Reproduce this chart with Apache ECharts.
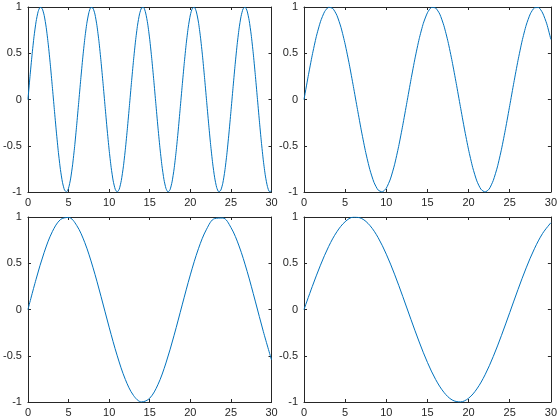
<!DOCTYPE html>
<html><head><meta charset="utf-8">
<script src="https://cdn.jsdelivr.net/npm/echarts@6/dist/echarts.min.js"></script>
<style>html,body{margin:0;padding:0;background:#fff}#c{width:560px;height:420px}</style>
</head><body><div id="c"></div>
<script>
// x samples
const xQuarter = [0,0.25,0.5,0.75,1,1.25,1.5,1.75,2,2.25,2.5,2.75,3,3.25,3.5,3.75,4,4.25,4.5,4.75,5,5.25,5.5,5.75,6,6.25,6.5,6.75,7,7.25,7.5,7.75,8,8.25,8.5,8.75,9,9.25,9.5,9.75,10,10.25,10.5,10.75,11,11.25,11.5,11.75,12,12.25,12.5,12.75,13,13.25,13.5,13.75,14,14.25,14.5,14.75,15,15.25,15.5,15.75,16,16.25,16.5,16.75,17,17.25,17.5,17.75,18,18.25,18.5,18.75,19,19.25,19.5,19.75,20,20.25,20.5,20.75,21,21.25,21.5,21.75,22,22.25,22.5,22.75,23,23.25,23.5,23.75,24,24.25,24.5,24.75,25,25.25,25.5,25.75,26,26.25,26.5,26.75,27,27.25,27.5,27.75,28,28.25,28.5,28.75,29,29.25,29.5,29.75,30];
const xHalf = [0,0.5,1,1.5,2,2.5,3,3.5,4,4.5,5,5.5,6,6.5,7,7.5,8,8.5,9,9.5,10,10.5,11,11.5,12,12.5,13,13.5,14,14.5,15,15.5,16,16.5,17,17.5,18,18.5,19,19.5,20,20.5,21,21.5,22,22.5,23,23.5,24,24.5,25,25.5,26,26.5,27,27.5,28,28.5,29,29.5,30];
const xWhole = [0,1,2,3,4,5,6,7,8,9,10,11,12,13,14,15,16,17,18,19,20,21,22,23,24,25,26,27,28,29,30];
// series values
const wave1 = [0,0.247,0.479,0.682,0.841,0.949,0.997,0.984,0.909,0.778,0.598,0.382,0.141,-0.108,-0.351,-0.572,-0.757,-0.895,-0.978,-0.999,-0.959,-0.859,-0.706,-0.508,-0.279,-0.033,0.215,0.450,0.657,0.823,0.938,0.995,0.989,0.923,0.798,0.625,0.412,0.174,-0.075,-0.320,-0.544,-0.735,-0.880,-0.970,-1.000,-0.968,-0.875,-0.729,-0.537,-0.311,-0.066,0.183,0.420,0.632,0.804,0.926,0.991,0.994,0.935,0.818,0.650,0.442,0.207,-0.042,-0.288,-0.516,-0.712,-0.864,-0.961,-1.000,-0.976,-0.891,-0.751,-0.564,-0.342,-0.099,0.150,0.390,0.606,0.784,0.913,0.986,0.997,0.946,0.837,0.675,0.472,0.239,-0.009,-0.256,-0.487,-0.688,-0.846,-0.952,-0.998,-0.982,-0.906,-0.773,-0.591,-0.373,-0.132,0.117,0.359,0.579,0.763,0.899,0.980,0.999,0.956,0.854,0.699,0.501,0.271,0.024,-0.224,-0.458,-0.664,-0.828,-0.941,-0.996,-0.988];
const wave2 = [0,0.247,0.479,0.682,0.841,0.949,0.997,0.984,0.909,0.778,0.598,0.382,0.141,-0.108,-0.351,-0.572,-0.757,-0.895,-0.978,-0.999,-0.959,-0.859,-0.706,-0.508,-0.279,-0.033,0.215,0.450,0.657,0.823,0.938,0.995,0.989,0.923,0.798,0.625,0.412,0.174,-0.075,-0.320,-0.544,-0.735,-0.880,-0.970,-1.000,-0.968,-0.875,-0.729,-0.537,-0.311,-0.066,0.183,0.420,0.632,0.804,0.926,0.991,0.994,0.935,0.818,0.650];
const wave3 = [0,0.327,0.618,0.841,0.972,0.995,0.909,0.723,0.457,0.141,-0.191,-0.501,-0.757,-0.929,-0.999,-0.959,-0.814,-0.578,-0.279,0.050,0.374,0.657,0.868,0.983,0.989,0.887,0.687,0.412,0.091,-0.240,-0.544];
const wave4 = [0,0.247,0.479,0.682,0.841,0.949,0.998,0.984,0.909,0.778,0.598,0.382,0.141,-0.108,-0.351,-0.572,-0.757,-0.895,-0.978,-0.999,-0.959,-0.859,-0.706,-0.508,-0.279,-0.033,0.215,0.450,0.657,0.823,0.938];
const xTicks = [0,5,10,15,20,25,30];
const yTicks = [-1,-0.5,0,0.5,1];

const axisCol = '#262626';
const lineCol = '#0072BD';
const grids = [
  {left:24.5, top:7, width:247, height:185},
  {left:304, top:7, width:248, height:185},
  {left:24.5, top:217, width:247, height:185},
  {left:304, top:217, width:248, height:185}
];
const sets = [[xQuarter,wave1],[xHalf,wave2],[xWhole,wave3],[xWhole,wave4]];
const xAxis=[], yAxis=[], series=[];
const lbl = {color:axisCol, fontFamily:'Liberation Sans, Arial, sans-serif', fontSize:11};
grids.forEach((g,i)=>{
  const base = {type:'value', gridIndex:i, splitLine:{show:false},
    axisLine:{show:true, onZero:false, lineStyle:{color:axisCol,width:1}},
    axisTick:{show:true, inside:true, length:3, lineStyle:{color:axisCol}}};
  xAxis.push(Object.assign({}, base, {min:xTicks[0], max:xTicks[xTicks.length-1], interval:xTicks[1]-xTicks[0], position:'bottom',
    axisLabel:Object.assign({}, lbl, {margin:5, showMinLabel:true, showMaxLabel:true})}));
  xAxis.push(Object.assign({}, base, {min:xTicks[0], max:xTicks[xTicks.length-1], interval:xTicks[1]-xTicks[0], position:'top', axisLabel:{show:false}}));
  yAxis.push(Object.assign({}, base, {min:yTicks[0], max:yTicks[yTicks.length-1], interval:yTicks[1]-yTicks[0], position:'left',
    axisLabel:Object.assign({}, lbl, {margin:6, formatter:v=>String(v)})}));
  yAxis.push(Object.assign({}, base, {min:yTicks[0], max:yTicks[yTicks.length-1], interval:yTicks[1]-yTicks[0], position:'right', axisLabel:{show:false}}));
  const [xs, ys] = sets[i];
  series.push({type:'line', xAxisIndex:2*i, yAxisIndex:2*i, smooth:i<2?0.2:0.35, symbol:'none',
    lineStyle:{color:lineCol, width:1}, data: xs.map((x,k)=>[x, ys[k]]), animation:false});
});
const chart = echarts.init(document.getElementById('c'), null, {renderer:'canvas'});
chart.setOption({animation:false, backgroundColor:'#fff', grid:grids, xAxis, yAxis, series});
</script></body></html>
